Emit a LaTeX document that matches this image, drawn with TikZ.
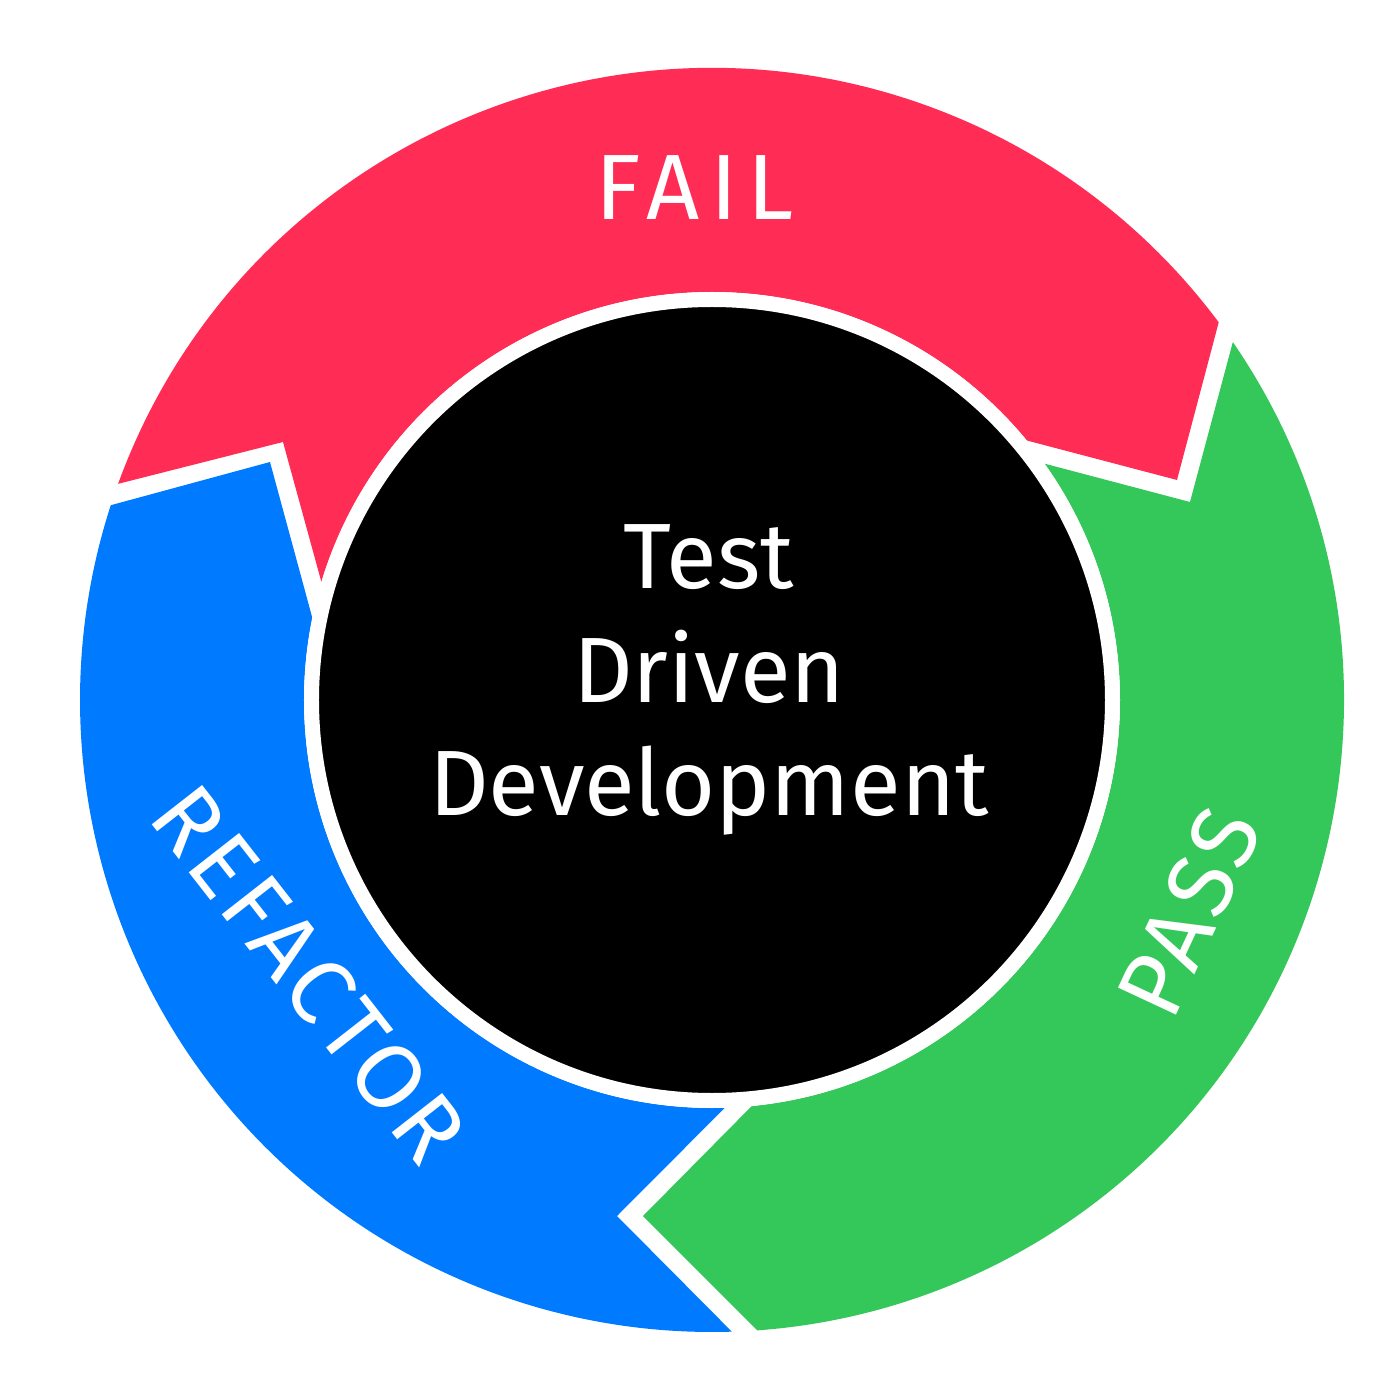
\documentclass[tikz,border=0pt]{standalone}
\usepackage{fontspec}
\setmainfont{Fira Sans}
\newfontfamily\ringfont{Fira Sans}[LetterSpace=5]
\newfontfamily\failfont{Fira Sans}[LetterSpace=11]
\usepackage{tikz}
\definecolor{failred}{HTML}{FF2D55}
\definecolor{passgreen}{HTML}{34C759}
\definecolor{refblue}{HTML}{007AFF}

\begin{document}
\begin{tikzpicture}[line join=miter]
	\tikzstyle{ringtext}=[text=white, font=\ringfont\fontsize{26.4}{32.4}\selectfont, inner sep=0pt]
	\tikzstyle{coretext}=[text=white, font=\fontsize{26.4}{32.4}\selectfont, inner sep=0pt, align=center]
	\tikzstyle{core}=[circle, fill=black, draw=white, line width=0.15cm, minimum size=8.01cm, inner sep=0pt]
	\useasboundingbox (-7.12,-7) rectangle (6.88,7);

	\fill[failred] (160:6.32) arc[start angle=160, end angle=36.7, radius=6.32] -- (4.65,2.20)
		-- (39.5:4.08) arc[start angle=39.5, end angle=163.2, radius=4.08] -- (-4.29,2.58) -- cycle;
	\fill[passgreen] (34.5:6.32) arc[start angle=34.5, end angle=-85.9, radius=6.32] -- (-0.69,-5.16)
		-- (-84.4:4.08) arc[start angle=-84.4, end angle=35.4, radius=4.08] -- (4.78,1.98) -- cycle;
	\fill[refblue] (271.8:6.32) arc[start angle=271.8, end angle=162.05, radius=6.32] -- (-4.42,2.38)
		-- (168.4:4.08) arc[start angle=168.4, end angle=271.8, radius=4.08] -- (-0.95,-5.16) -- cycle;

	\node[core] (tddcore) at (0,0) {};
	\node[coretext] (tdd) at (-0.03,0.2) {Test\\Driven\\Development};
	\node[ringtext, font=\failfont\fontsize{26.4}{32.4}\selectfont] (fail) at (-0.17,5.125) {FAIL};
	\node[ringtext, rotate=65] (pass) at (4.77,-2.12) {PASS};
	\node[ringtext, rotate=-52] (refactor) at (-4.03,-2.74) {REFACTOR};
\end{tikzpicture}
\end{document}
